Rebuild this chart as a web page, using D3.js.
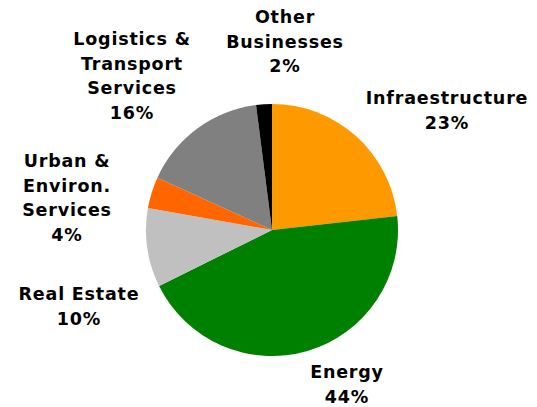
<!DOCTYPE html>
<html>
<head>
<meta charset="utf-8">
<script src="https://cdn.jsdelivr.net/npm/d3@7/dist/d3.min.js"></script>
<style>
  html, body { margin: 0; padding: 0; background: #fff; }
  text { font-family: "DejaVu Sans", Verdana, sans-serif; font-weight: bold; fill: #000; }
</style>
</head>
<body>
<svg id="chart" width="537" height="407"></svg>
<script>
// Business segments and their share of the total (%)
const segments = ["Infraestructure", "Energy", "Real Estate", "Urban & Environ. Services", "Logistics & Transport Services", "Other Businesses"];
const shares = [23, 44, 10, 4, 16, 2];
const colors = ["#FF9900", "#008000", "#C0C0C0", "#FF6600", "#808080", "#000000"];
// Label text lines (wrapped as shown around the pie)
const labelLines = [
  ["Infraestructure"],
  ["Energy"],
  ["Real Estate"],
  ["Urban &", "Environ.", "Services"],
  ["Logistics &", "Transport", "Services"],
  ["Other", "Businesses"]
];
// Label anchor points (x centre, baseline of first line)
const labelAnchor = [[447, 104], [347, 378], [79, 300], [67, 167], [132, 45], [285, 23]];

const svg = d3.select("#chart");
const cx = 272, cy = 230, r = 126;
const lineH = 24.5;

const pie = d3.pie().sort(null).value(d => d.v);
const arc = d3.arc().innerRadius(0).outerRadius(r);
const data = segments.map((s, i) => ({ name: s, v: shares[i], i }));

const g = svg.append("g").attr("transform", `translate(${cx},${cy})`);
g.selectAll("path").data(pie(data)).join("path")
  .attr("d", arc)
  .attr("fill", d => colors[d.data.i]);

const labels = svg.append("g").selectAll("text").data(data).join("text")
  .attr("text-anchor", "middle")
  .style("font-size", "17.5px")
  .style("letter-spacing", "0.8px")
  .attr("x", d => labelAnchor[d.i][0])
  .attr("y", d => labelAnchor[d.i][1]);

labels.each(function(d) {
  const t = d3.select(this);
  const lines = labelLines[d.i].concat([d3.format("d")(d.v) + "%"]);
  lines.forEach((ln, k) => {
    t.append("tspan")
      .attr("x", labelAnchor[d.i][0])
      .attr("dy", k === 0 ? 0 : lineH)
      .text(ln);
  });
});
</script>
</body>
</html>
